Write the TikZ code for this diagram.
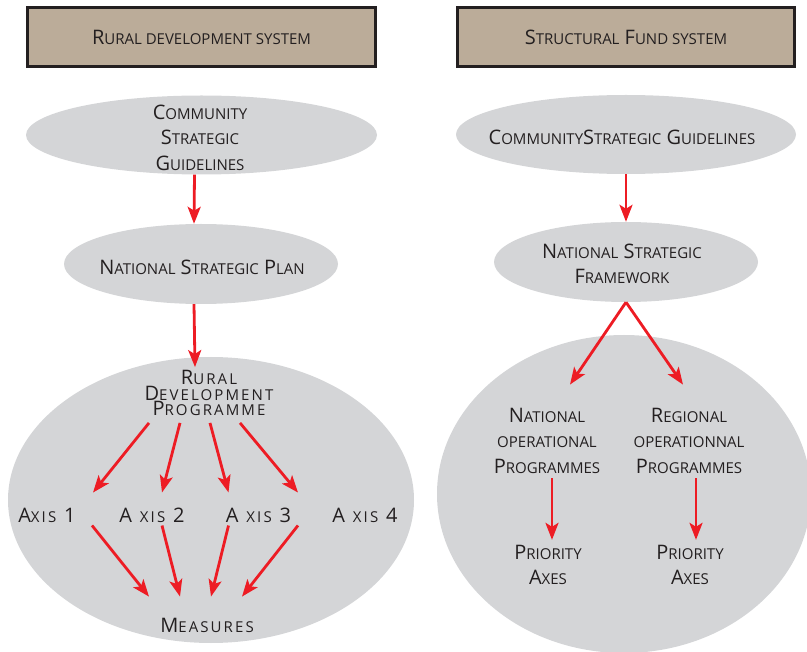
\documentclass[tikz,border=0pt]{standalone}
\usepackage{fontspec}
\setmainfont{Open Sans}
\usepackage{xcolor}
\usetikzlibrary{shapes.geometric,arrows.meta}
\definecolor{hdrtan}{HTML}{BBAC99}
\definecolor{ink}{HTML}{231F20}
\definecolor{fog}{HTML}{D4D5D7}
\definecolor{arrred}{HTML}{ED1C24}
\newcommand{\smc}[1]{{\fontsize{15}{25.5}\selectfont\MakeUppercase{#1}}}
\tikzset{>={Stealth[length=17pt,width=13pt,inset=4pt]}}

\begin{document}
\begin{tikzpicture}[x=1pt,y=-1pt,
  hdr/.style={draw=ink,line width=3pt,fill=hdrtan,minimum height=59pt,text=ink,font=\fontsize{20}{25.5}\selectfont},
  oval/.style={ellipse,fill=fog,inner sep=0pt},
  lbl/.style={inner sep=0pt,align=center,text=ink,font=\fontsize{20}{25.5}\selectfont},
  widelbl/.style={lbl,font=\addfontfeature{LetterSpace=14}\fontsize{20}{25.5}\selectfont},
  arr/.style={->,draw=arrred,line width=2.8pt}]
\useasboundingbox (0,0) rectangle (807,652);
\clip (0,0) rectangle (807,652);
%%%%%%%%%% rural development system
\node[hdr,minimum width=348pt] (hdrL) at (201.5,37) {R\smc{ural development system}};
\node[oval,minimum width=351pt,minimum height=79pt] (csgL) at (201.5,135) {};
\node[lbl] (csgLt) at (200,137.5) {C\smc{ommunity}\\S\smc{trategic}\\G\smc{uidelines}};
\node[oval,minimum width=274pt,minimum height=80pt] (nspL) at (201,264) {};
\node[lbl] (nspLt) at (202,267) {N\smc{ational} S\smc{trategic} P\smc{lan}};
\fill[fog] (211,500) ellipse [x radius=203pt, y radius=143pt];
\node[widelbl,font=\addfontfeature{LetterSpace=14}\fontsize{20}{15.5}\selectfont] (rdp) at (209,393) {R\smc{ural}\\D\smc{evelopment}\\P\smc{rogramme}};
\node[widelbl] (ax1) at (47,515) {A\smc{xis} 1};
\node[widelbl] (ax2) at (152,515) {A \smc{xis} 2};
\node[widelbl] (ax3) at (258.5,515) {A \smc{xis} 3};
\node[widelbl] (ax4) at (365,515) {A \smc{xis} 4};
\node[widelbl] (meas) at (207,625) {M\smc{easures}};
\draw[arr] ([xshift=-7pt]csgL.south) -- ([xshift=-7pt]nspL.north);
\draw[arr] ([xshift=-7pt]nspL.south) -- ([shift={(-14,-3)}]rdp.north);
\draw[arr] ([shift={(-60,7)}]rdp.south) -- ([shift={(46,-15)}]ax1.north);
\draw[arr] ([shift={(-29,7)}]rdp.south) -- ([shift={(10,-15)}]ax2.north);
\draw[arr] ([shift={(1,7)}]rdp.south) -- ([shift={(-30,-15)}]ax3.north);
\draw[arr] ([shift={(31,7)}]rdp.south) -- ([shift={(-67,-15)}]ax4.north);
\draw[arr] ([shift={(45,3)}]ax1.south) -- ([shift={(-58,-21)}]meas.north);
\draw[arr] ([shift={(10,3)}]ax2.south) -- ([shift={(-27,-21)}]meas.north);
\draw[arr] ([shift={(-30,3)}]ax3.south) -- ([shift={(4,-21)}]meas.north);
\draw[arr] ([shift={(-67,3)}]ax4.south) -- ([shift={(35,-21)}]meas.north);
%%%%%%%%%% structural fund system
\node[hdr,minimum width=337pt] (hdrR) at (626,37) {S\smc{tructural} F\smc{und system}};
\node[oval,minimum width=340pt,minimum height=79pt] (csgR) at (626,134.5) {};
\node[lbl] (csgRt) at (622,137) {C\smc{ommunity}S\smc{trategic} G\smc{uidelines}};
\node[oval,minimum width=264pt,minimum height=80pt] (nsfR) at (626,262) {};
\node[lbl] (nsfRt) at (622,264) {N\smc{ational} S\smc{trategic}\\F\smc{ramework}};
\fill[fog] (624,494) ellipse [x radius=187pt, y radius=159pt];
\node[lbl] (nop) at (547,440.5) {N\smc{ational}\\\smc{operational}\\P\smc{rogrammes}};
\node[lbl] (rop) at (689,440.5) {R\smc{egional}\\\smc{operationnal}\\P\smc{rogrammes}};
\node[lbl] (pa1) at (548,565) {P\smc{riority}\\A\smc{xes}};
\node[lbl] (pa2) at (690,565) {P\smc{riority}\\A\smc{xes}};
\draw[arr] (csgR.south) -- (nsfR.north);
\draw[arr] (nsfR.south) -- ([shift={(23,-23)}]nop.north);
\draw[arr] (nsfR.south) -- ([shift={(-6,-23)}]rop.north);
\draw[arr] ([shift={(5,5)}]nop.south) -- ([shift={(4,-5)}]pa1.north);
\draw[arr] ([shift={(7,5)}]rop.south) -- ([shift={(6,-5)}]pa2.north);
\end{tikzpicture}
\end{document}
